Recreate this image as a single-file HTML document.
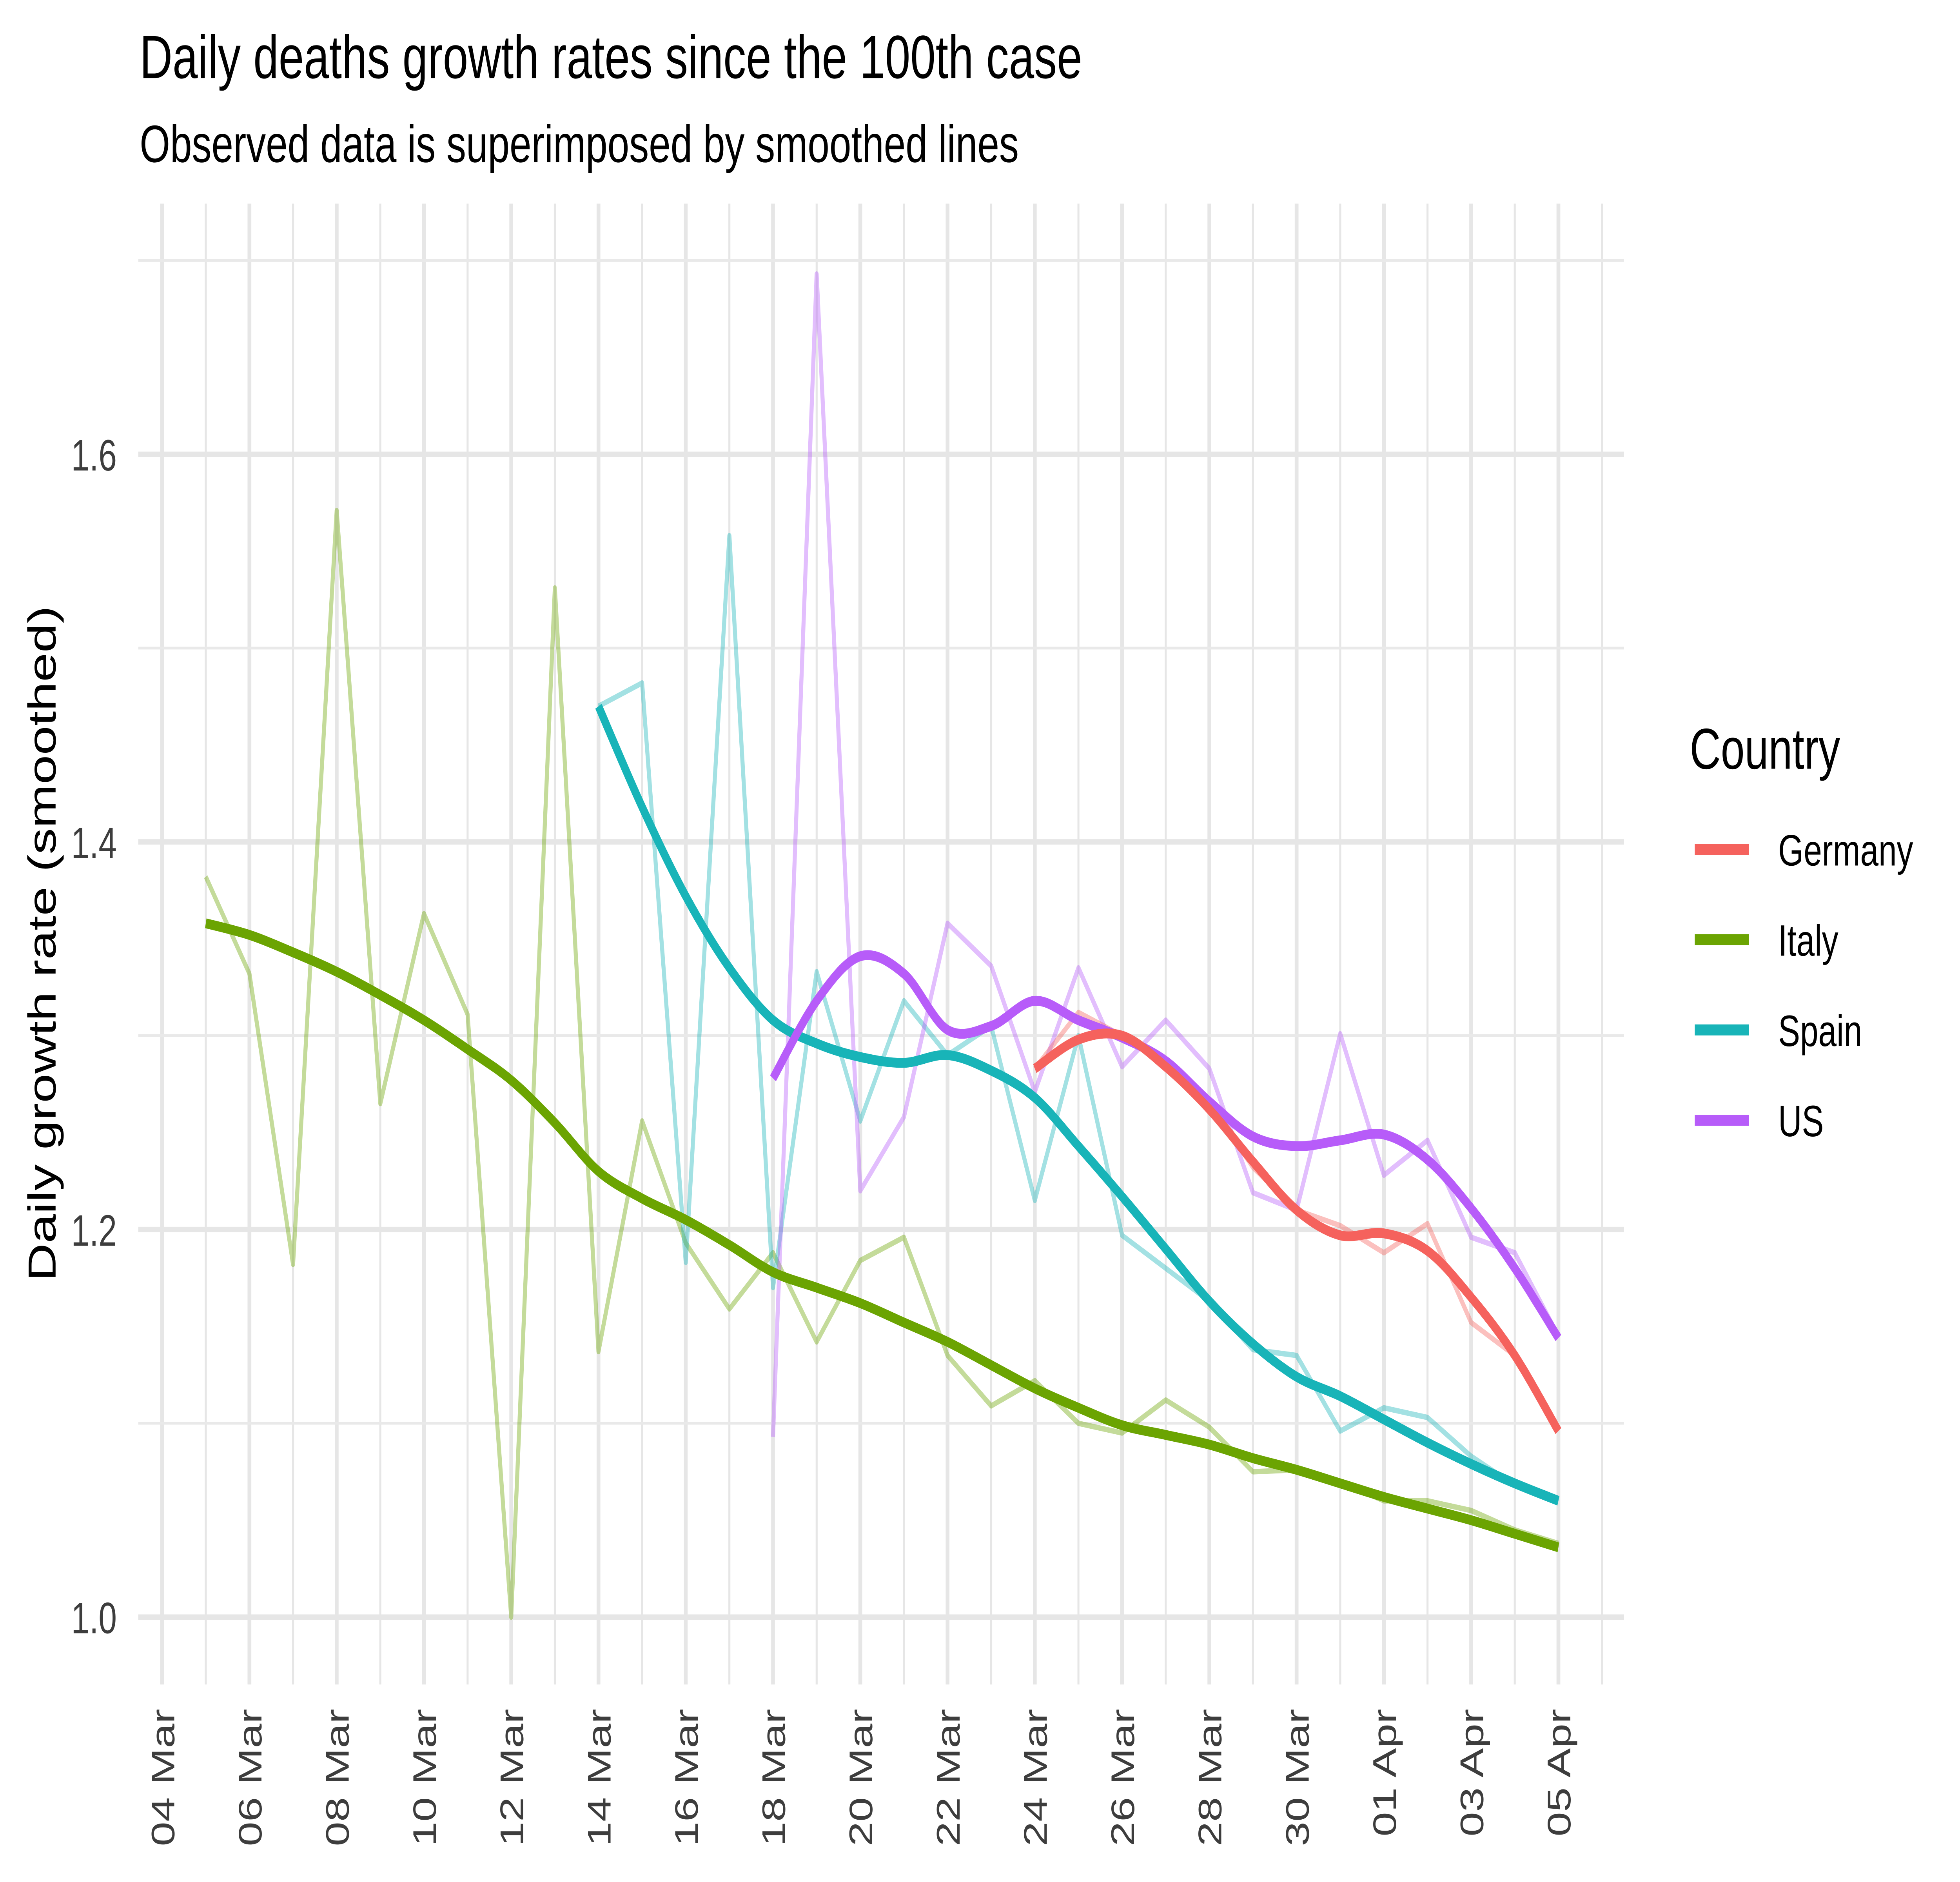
<!DOCTYPE html>
<html><head><meta charset="utf-8"><style>
html,body{margin:0;padding:0;background:#fff;width:100%;height:100%;overflow:hidden;}
svg{display:block;width:100vw;height:100vh;font-family:"Liberation Sans",Arial,sans-serif;}
</style></head><body>
<svg id="chart" viewBox="0 0 1552 1109" preserveAspectRatio="none" xmlns="http://www.w3.org/2000/svg">
<rect width="1552" height="1109" fill="#fff"/>
<text x="110.6" y="46" font-size="36" fill="#000">Daily deaths growth rates since the 100th case</text>
<text x="110.6" y="95.5" font-size="31" fill="#000">Observed data is superimposed by smoothed lines</text>
<text transform="translate(44,556) rotate(-90)" text-anchor="middle" font-size="31" fill="#000">Daily growth rate (smoothed)</text>
<g id="grid"></g>
<g id="series"></g>
<g id="axes"></g>
<g id="legend">
<text x="1338" y="453" font-size="34" fill="#000">Country</text>
</g>
</svg>
<script>
const countries = ["Germany","Italy","Spain","US"];
const colors = ["#F5625D","#6BA402","#18B4B8","#B75CF9"];
const startDays = [20, 1, 10, 14];
const germanyRaw = [1.283,1.312,1.300,1.285,1.266,1.232,1.210,1.202,1.188,1.203,1.152,1.135,1.096];
const germanySmooth = [1.283,1.298,1.300,1.284,1.262,1.235,1.210,1.197,1.198,1.189,1.165,1.135,1.096];
const italyRaw = [1.382,1.332,1.182,1.571,1.265,1.363,1.311,1.000,1.531,1.137,1.256,1.193,1.159,1.188,1.142,1.184,1.196,1.135,1.109,1.122,1.100,1.095,1.112,1.098,1.075,1.076,1.070,1.060,1.060,1.055,1.045,1.038];
const italySmooth = [1.358,1.352,1.343,1.333,1.321,1.308,1.293,1.277,1.255,1.230,1.216,1.205,1.192,1.178,1.170,1.162,1.152,1.142,1.130,1.118,1.108,1.099,1.094,1.089,1.082,1.076,1.069,1.062,1.056,1.050,1.043,1.036];
const spainRaw = [1.470,1.482,1.183,1.558,1.170,1.333,1.256,1.318,1.290,1.305,1.215,1.300,1.197,1.180,1.163,1.138,1.135,1.096,1.108,1.103,1.083,1.068,1.060];
const spainSmooth = [1.470,1.418,1.372,1.335,1.308,1.296,1.289,1.286,1.290,1.282,1.268,1.243,1.217,1.190,1.163,1.141,1.124,1.114,1.102,1.090,1.079,1.069,1.060];
const usRaw = [1.093,1.693,1.220,1.258,1.358,1.336,1.271,1.335,1.284,1.308,1.283,1.219,1.210,1.301,1.228,1.246,1.196,1.188,1.145];
const usSmooth = [1.278,1.318,1.341,1.332,1.303,1.305,1.318,1.308,1.299,1.287,1.266,1.248,1.243,1.246,1.249,1.236,1.211,1.180,1.144];
const xTickLabels = ["04 Mar","06 Mar","08 Mar","10 Mar","12 Mar","14 Mar","16 Mar","18 Mar","20 Mar","22 Mar","24 Mar","26 Mar","28 Mar","30 Mar","01 Apr","03 Apr","05 Apr"];
const yTicks = [1.0,1.2,1.4,1.6];
const yMinor = [1.1,1.3,1.5,1.7];

const NS="http://www.w3.org/2000/svg";
const X = d => 128.4 + d*34.55;
const Y = v => 952.9 - (v-1)*1142;
const PL=109.5, PR=1286, PT=120, PB=992.6;
function mk(tag, parent, attrs){const e=document.createElementNS(NS,tag);for(const k in attrs)e.setAttribute(k,attrs[k]);parent.appendChild(e);return e;}
const grid=document.getElementById('grid'), ser=document.getElementById('series'), axes=document.getElementById('axes'), leg=document.getElementById('legend');

for(let d=0; d<=33; d++){
  const l=mk('line',grid,{x1:X(d),x2:X(d),y1:PT,y2:PB,stroke:'#e6e6e6','stroke-width':d%2===0?3:1.6});
  
  
}
yMinor.forEach(v=>{const l=mk('line',grid,{x1:PL,x2:PR,y1:Y(v),y2:Y(v),stroke:'#e9e9e9','stroke-width':1.6});
  
  });
yTicks.forEach(v=>{const l=mk('line',grid,{x1:PL,x2:PR,y1:Y(v),y2:Y(v),stroke:'#e6e6e6','stroke-width':3.2});
  
  
  const t=mk('text',axes,{x:92.5,y:Y(v)+9.5,'text-anchor':'end','font-size':26,fill:'#3d3d3d'});
  t.textContent=v.toFixed(1);
  
  });
xTickLabels.forEach((s,i)=>{const x=X(i*2);
  const t=mk('text',axes,{transform:`translate(${x+9.5},1007) rotate(-90)`,'text-anchor':'end','font-size':26,fill:'#3d3d3d'});
  t.textContent=s;
  
  });

function pts(arr,start){return arr.map((v,i)=>[X(start+i),Y(v)]);}
function poly(p){return 'M'+p.map(q=>q[0].toFixed(2)+','+q[1].toFixed(2)).join('L');}
function smooth(p){let d='M'+p[0][0]+','+p[0][1];
  for(let i=0;i<p.length-1;i++){const p0=p[Math.max(0,i-1)],p1=p[i],p2=p[i+1],p3=p[Math.min(p.length-1,i+2)];
    const c1=[p1[0]+(p2[0]-p0[0])/6,p1[1]+(p2[1]-p0[1])/6],c2=[p2[0]-(p3[0]-p1[0])/6,p2[1]-(p3[1]-p1[1])/6];
    d+=`C${c1[0]},${c1[1]} ${c2[0]},${c2[1]} ${p2[0]},${p2[1]}`;}
  return d;}
const raws=[germanyRaw,italyRaw,spainRaw,usRaw], sms=[germanySmooth,italySmooth,spainSmooth,usSmooth];
const order=[1,2,3,0];
order.forEach(i=>{const p=mk('path',ser,{d:poly(pts(raws[i],startDays[i])),fill:'none',stroke:colors[i],'stroke-opacity':0.4,'stroke-width':3.2,'stroke-linejoin':'round'});
  
  });
order.forEach(i=>{const p=mk('path',ser,{d:smooth(pts(sms[i],startDays[i])),fill:'none',stroke:colors[i],'stroke-width':5.8});
  
  });
countries.forEach((c,i)=>{const y=500.5+i*53.2;
  const l=mk('line',leg,{x1:1342,x2:1385,y1:y,y2:y,stroke:colors[i],'stroke-width':6.5});
  
  
  const t=mk('text',leg,{x:1408,y:y+9.5,'font-size':26,fill:'#000'});
  t.textContent=c;
  
  });
</script>
</body></html>
